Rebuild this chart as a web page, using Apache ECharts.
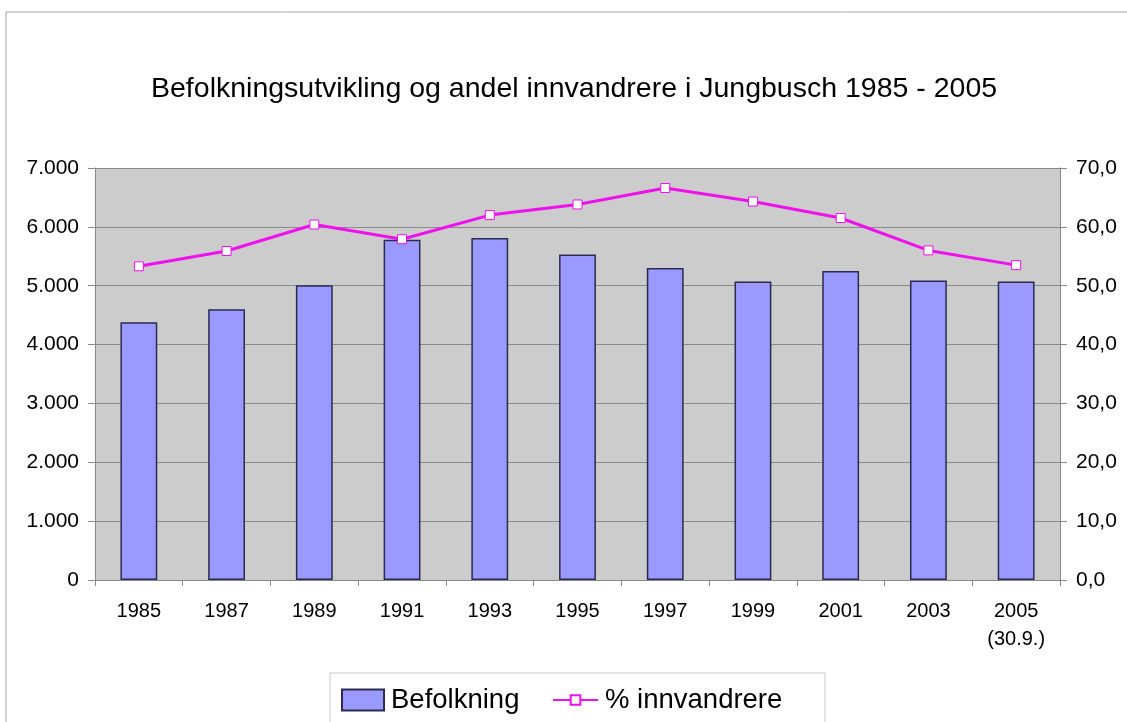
<!DOCTYPE html>
<html>
<head>
<meta charset="utf-8">
<script src="https://cdn.jsdelivr.net/npm/echarts@6/dist/echarts.min.js"></script>
<style>
  html, body { margin: 0; padding: 0; background: #fff; }
  #main { width: 1127px; height: 722px; }
</style>
</head>
<body>
<div id="main"></div>
<script>
// data
var years = ['1985', '1987', '1989', '1991', '1993', '1995', '1997', '1999', '2001', '2003', '2005\n(30.9.)'];
var befolkning = [4380, 4600, 5010, 5780, 5810, 5530, 5300, 5070, 5250, 5090, 5070];
var innvandrere = [53.3, 55.9, 60.4, 57.9, 62.0, 63.8, 66.6, 64.3, 61.5, 56.0, 53.5];

var font = 'Liberation Sans, Arial, sans-serif';

var chart = echarts.init(document.getElementById('main'));

var option = {
    animation: false,
    backgroundColor: '#fff',
    title: {
        text: 'Befolkningsutvikling og andel innvandrere i Jungbusch 1985 - 2005',
        left: 146,
        top: 70,
        textStyle: { fontFamily: font, fontSize: 28.5, fontWeight: 'normal', color: '#000' }
    },
    graphic: [{
        type: 'rect',
        shape: { x: 6, y: 12, width: 1200, height: 800 },
        style: { fill: 'none', stroke: '#a8a8a8', lineWidth: 1 },
        silent: true
    }, {
        // legend frame
        type: 'rect',
        shape: { x: 330, y: 673, width: 495, height: 80 },
        style: { fill: 'none', stroke: '#c8c8c8', lineWidth: 1 },
        silent: true
    }],
    legend: [{
        left: 341,
        top: 686,
        padding: 0,
        itemWidth: 42,
        itemHeight: 21,
        textStyle: { fontFamily: font, fontSize: 27.5, color: '#000', padding: [0, 0, 0, 2] },
        data: [{ name: 'Befolkning', icon: 'rect' }]
    }, {
        left: 552,
        top: 686,
        padding: 0,
        itemWidth: 45,
        itemHeight: 12,
        textStyle: { fontFamily: font, fontSize: 27.5, color: '#000', padding: [0, 0, 0, 2], height: 21, lineHeight: 21 },
        data: [{ name: '% innvandrere' }]
    }],
    grid: { left: 95, right: 67, top: 168, bottom: 142 },
    xAxis: {
        type: 'category',
        data: years,
        boundaryGap: true,
        axisLine: { lineStyle: { color: '#888' } },
        axisTick: { show: true, length: 6, lineStyle: { color: '#888' } },
        axisLabel: { fontFamily: font, fontSize: 20, color: '#000', margin: 17, lineHeight: 28 }
    },
    yAxis: [{
        type: 'value',
        min: 0,
        max: 7000,
        interval: 1000,
        axisLine: { show: true, lineStyle: { color: '#888' } },
        axisTick: { show: true, length: 7, lineStyle: { color: '#888' } },
        splitLine: { lineStyle: { color: '#8a8a8a', width: 1 } },
        splitArea: { show: true, areaStyle: { color: ['#cccccc', '#cccccc'] } },
        axisLabel: {
            fontFamily: font, fontSize: 21, color: '#000', margin: 16,
            formatter: function (v) {
                return v === 0 ? '0' : (v / 1000) + '.000';
            }
        }
    }, {
        type: 'value',
        min: 0,
        max: 70,
        interval: 10,
        position: 'right',
        axisLine: { show: true, lineStyle: { color: '#888' } },
        axisTick: { show: true, length: 7, lineStyle: { color: '#888' } },
        splitLine: { show: false },
        axisLabel: {
            fontFamily: font, fontSize: 21, color: '#000', margin: 16,
            formatter: function (v) { return v.toFixed(1).replace('.', ','); }
        }
    }],
    series: [{
        name: 'Befolkning',
        type: 'bar',
        data: befolkning,
        barWidth: '42%',
        itemStyle: { color: '#9999ff', borderColor: '#2b2b4f', borderWidth: 1.5 }
    }, {
        name: '% innvandrere',
        type: 'line',
        yAxisIndex: 1,
        data: innvandrere,
        symbol: 'rect',
        symbolSize: 9,
        lineStyle: { color: '#ee11ee', width: 3 },
        itemStyle: { color: '#ffffff', borderColor: '#ee11ee', borderWidth: 1 }
    }]
};

chart.setOption(option);
</script>
</body>
</html>
